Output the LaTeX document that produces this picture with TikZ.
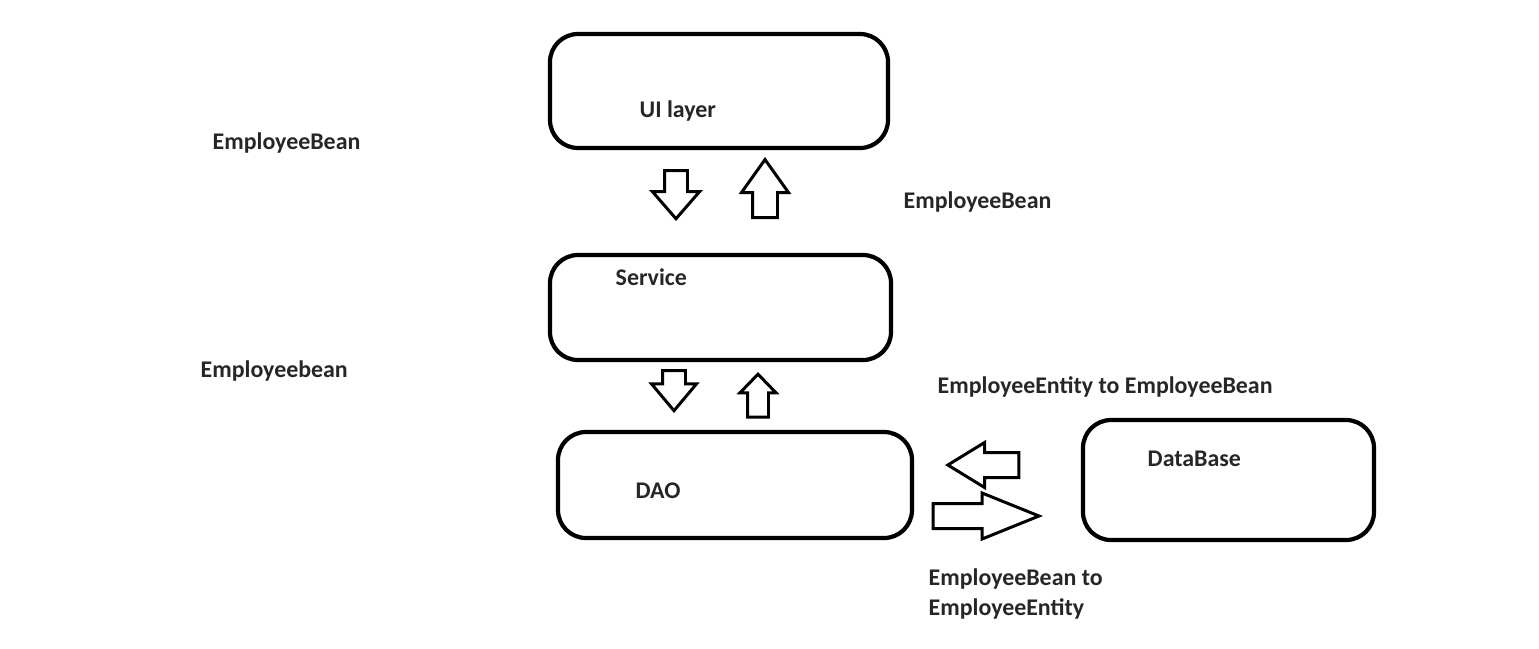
\documentclass[tikz,border=0pt]{standalone}
\usepackage{fontspec}
\setmainfont{Carlito}
\usetikzlibrary{shapes.arrows}

\tikzset{
  layer/.style={draw, line width=1.2pt, rounded corners=2.8mm, inner sep=0pt},
  lbl/.style={font=\fontsize{6.8}{8.5}\selectfont\bfseries, text=black!85, inner sep=0pt, anchor=base west},
  blockarrow/.style={single arrow, draw, line width=0.85pt, inner sep=0pt,
    single arrow head indent=0pt, anchor=tip},
}

\begin{document}
\begin{tikzpicture}[x=0.1mm, y=-0.1mm]
\useasboundingbox (0,0) rectangle (1539,648);

% layers
\node [layer, minimum width=33.8mm, minimum height=11.4mm] (ui) at (719,91) {};
\node [layer, minimum width=34.1mm, minimum height=10.5mm] (service) at (720.5,307.5) {};
\node [layer, minimum width=35.4mm, minimum height=10.6mm] (dao) at (735,485) {};
\node [layer, minimum width=29.1mm, minimum height=12.0mm] (db) at (1228.5,480) {};

\node [lbl] (uitext) at (639,117) {UI layer};
\node [lbl] (servicetext) at (615,285) {Service};
\node [lbl] (daotext) at (635,498) {DAO};
\node [lbl] (dbtext) at (1147,466) {DataBase};

% block arrows
\node [blockarrow, shape border rotate=270, inner sep=1mm, minimum height=4.8mm,
  single arrow head extend=1.2mm, single arrow tip angle=82] (uidown) at (676,221) {};
\node [blockarrow, shape border rotate=90, inner sep=1.1mm, minimum height=5.8mm,
  single arrow head extend=1.1mm, single arrow tip angle=71] (uiup) at (765,157) {};
\node [blockarrow, shape border rotate=270, inner sep=1mm, minimum height=4.0mm,
  single arrow head extend=1.1mm, single arrow tip angle=80] (servicedown) at (674,413) {};
\node [blockarrow, shape border rotate=90, inner sep=0.9mm, minimum height=4.3mm,
  single arrow head extend=0.75mm, single arrow tip angle=88] (serviceup) at (758,372) {};
\node [blockarrow, shape border rotate=180, inner sep=1.1mm, minimum height=7.1mm,
  single arrow head extend=1.0mm, single arrow tip angle=63] (dbleft) at (945,465) {};
\node [blockarrow, inner sep=1.1mm, minimum height=10.6mm,
  single arrow head extend=1.05mm, single arrow tip angle=44] (dbright) at (1043,516) {};

% conversions
\node [lbl] (beanone) at (212,149) {EmployeeBean};
\node [lbl] (beantwo) at (903,208) {EmployeeBean};
\node [lbl] (beanthree) at (200,377) {Employeebean};
\node [lbl] (toBean) at (937,393) {EmployeeEntity to EmployeeBean};
\node [lbl, align=left] (toEntity) at (928,615) {EmployeeBean to\\EmployeeEntity};

\end{tikzpicture}
\end{document}
